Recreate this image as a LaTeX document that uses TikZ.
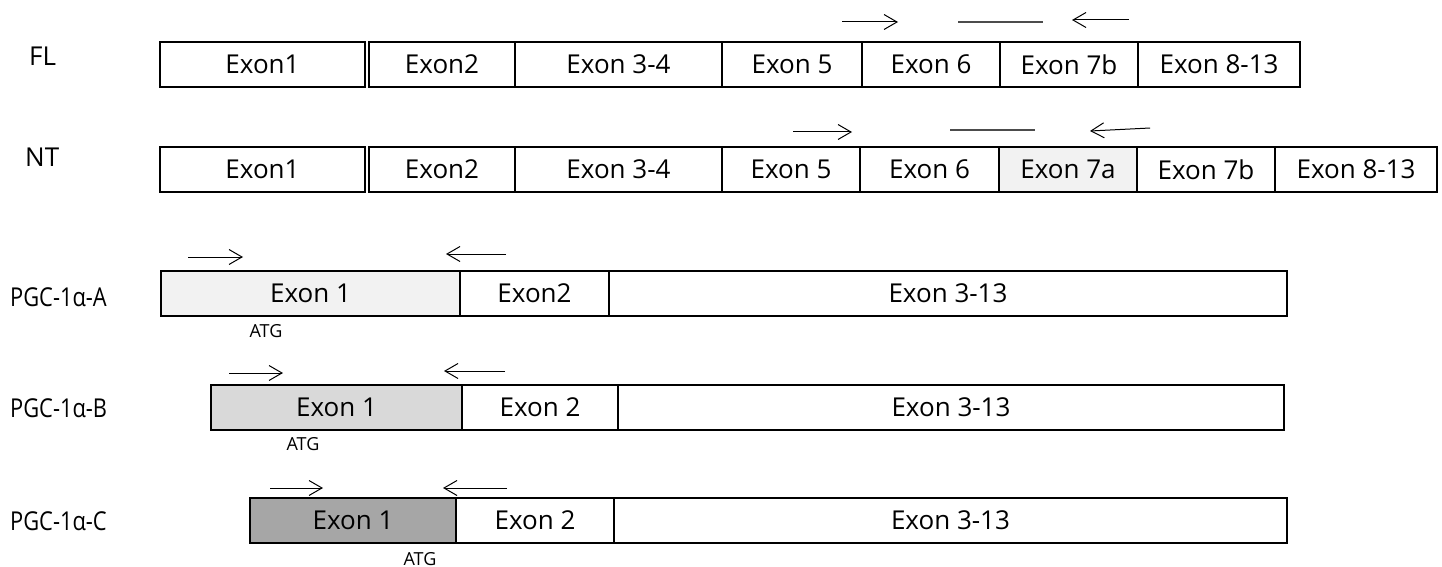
\documentclass[tikz,border=0pt]{standalone}
\usepackage{fontspec}
\setmainfont{Open Sans}
\newfontfamily\narrowsans[FakeStretch=0.84]{Open Sans}
\usetikzlibrary{arrows.meta}

\definecolor{shadeA}{HTML}{F2F2F2}
\definecolor{shadeB}{HTML}{D9D9D9}
\definecolor{shadeC}{HTML}{A6A6A6}

\tikzset{
  exonbox/.style={draw=black, line width=2pt, inner sep=0pt, font=\fontsize{26}{30}\selectfont},
  rowlabel/.style={anchor=west, inner sep=0pt, font=\fontsize{26}{30}\selectfont},
  isolabel/.style={anchor=west, inner sep=0pt, font=\narrowsans\fontsize{26}{30}\selectfont},
  atglabel/.style={inner sep=0pt, font=\fontsize{18}{21}\selectfont},
  primer/.style={line width=1pt, -{Straight Barb[length=13pt,width=15pt,line width=1pt]}},
  spanline/.style={line width=1.5pt, draw=black!70},
}

% \exon{name}{x1}{x2}{y1}{y2}{fill}{text}
\newcommand{\exon}[7]{%
  \node[exonbox, fill=#6, minimum width={(#3-#2)*1pt}, minimum height={(#5-#4)*1pt}]
    (#1) at ({(#2+#3)/2},{(#4+#5)/2}) {#7};}

\begin{document}
\begin{tikzpicture}[x=1pt,y=-1pt]
\useasboundingbox (0,0) rectangle (1442,567);

% ---- FL transcript ----
\node[rowlabel] (fl) at (29,56) {FL};
\exon{fl1}{160}{365}{42}{87}{white}{Exon1}
\exon{fl2}{369}{515}{42}{87}{white}{Exon2}
\exon{fl3}{515}{722}{42}{87}{white}{Exon 3-4}
\exon{fl5}{722}{862}{42}{87}{white}{Exon 5}
\exon{fl6}{862}{1000}{42}{87}{white}{Exon 6}
\exon{fl7}{1000}{1138}{42}{87}{white}{Exon 7b}
\exon{fl8}{1138}{1300}{42}{87}{white}{Exon 8-13}
\coordinate (flfa) at (842,22); \coordinate (flfb) at (898,22);
\coordinate (flla) at (958,22); \coordinate (fllb) at (1043,22);
\coordinate (flra) at (1129,20); \coordinate (flrb) at (1072,20);
\draw[primer] (flfa) -- (flfb);
\draw[spanline] (flla) -- (fllb);
\draw[primer] (flra) -- (flrb);

% ---- NT transcript ----
\node[rowlabel] (nt) at (25,157) {NT};
\exon{nt1}{160}{365}{147}{192}{white}{Exon1}
\exon{nt2}{369}{515}{147}{192}{white}{Exon2}
\exon{nt3}{515}{722}{147}{192}{white}{Exon 3-4}
\exon{nt5}{722}{860}{147}{192}{white}{Exon 5}
\exon{nt6}{860}{999}{147}{192}{white}{Exon 6}
\exon{nt7a}{999}{1137}{147}{192}{shadeA}{Exon 7a}
\exon{nt7b}{1137}{1275}{147}{192}{white}{Exon 7b}
\exon{nt8}{1275}{1437}{147}{192}{white}{Exon 8-13}
\coordinate (ntfa) at (793,132); \coordinate (ntfb) at (852,132);
\coordinate (ntla) at (950,130); \coordinate (ntlb) at (1035,130);
\coordinate (ntra) at (1150,128); \coordinate (ntrb) at (1090,131);
\draw[primer] (ntfa) -- (ntfb);
\draw[spanline] (ntla) -- (ntlb);
\draw[primer] (ntra) -- (ntrb);

% ---- PGC-1alpha-A ----
\node[isolabel] (pa) at (10,297) {PGC-1α-A};
\exon{pa1}{161}{460}{271}{316}{shadeA}{Exon 1}
\exon{pa2}{460}{609}{271}{316}{white}{Exon2}
\exon{pa3}{609}{1287}{271}{316}{white}{Exon 3-13}
\node[atglabel] (paatg) at (266,331) {ATG};
\coordinate (pafa) at (188,257); \coordinate (pafb) at (243,257);
\coordinate (para) at (506,254); \coordinate (parb) at (446,254);
\draw[primer] (pafa) -- (pafb);
\draw[primer] (para) -- (parb);

% ---- PGC-1alpha-B ----
\node[isolabel] (pb) at (10,408) {PGC-1α-B};
\exon{pb1}{211}{462}{385}{430}{shadeB}{Exon 1}
\exon{pb2}{462}{618}{385}{430}{white}{Exon 2}
\exon{pb3}{618}{1284}{385}{430}{white}{Exon 3-13}
\node[atglabel] (pbatg) at (303,444) {ATG};
\coordinate (pbfa) at (229,373); \coordinate (pbfb) at (283,373);
\coordinate (pbra) at (505,371); \coordinate (pbrb) at (444,371);
\draw[primer] (pbfa) -- (pbfb);
\draw[primer] (pbra) -- (pbrb);

% ---- PGC-1alpha-C ----
\node[isolabel] (pc) at (10,521) {PGC-1α-C};
\exon{pc1}{250}{456}{498}{543}{shadeC}{Exon 1}
\exon{pc2}{456}{614}{498}{543}{white}{Exon 2}
\exon{pc3}{614}{1287}{498}{543}{white}{Exon 3-13}
\node[atglabel] (pcatg) at (420,559) {ATG};
\coordinate (pcfa) at (270,488); \coordinate (pcfb) at (323,488);
\coordinate (pcra) at (507,488); \coordinate (pcrb) at (443,488);
\draw[primer] (pcfa) -- (pcfb);
\draw[primer] (pcra) -- (pcrb);
\end{tikzpicture}
\end{document}
